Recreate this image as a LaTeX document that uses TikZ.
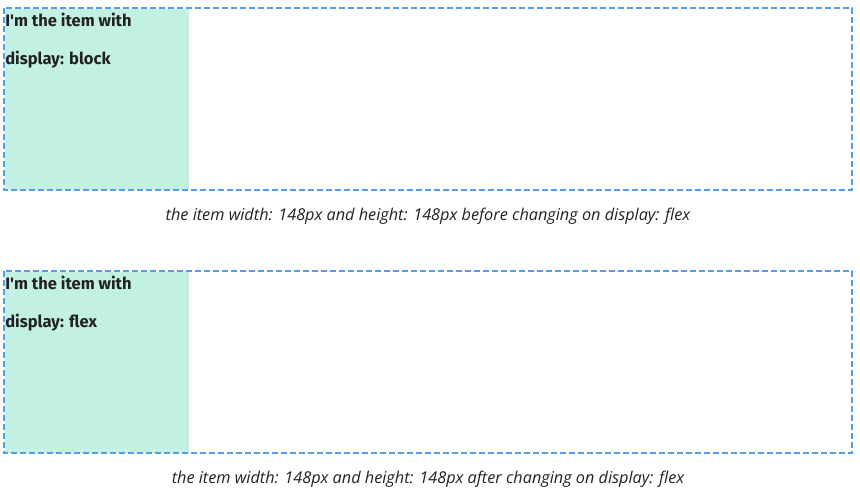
\documentclass[tikz,border=0pt]{standalone}
\usepackage{fontspec}
\usetikzlibrary{positioning}
\newfontfamily\itemfont{Fira Sans}
\newfontfamily\capfont{Open Sans}
\definecolor{boxblue}{HTML}{549DEA}
\definecolor{itemgreen}{HTML}{C2F0E2}
\definecolor{textdark}{HTML}{222222}
\tikzset{
  outerbox/.style={draw=boxblue, line width=1.5pt, dash pattern=on 4.5pt off 2.25pt},
  itembox/.style={fill=itemgreen, draw=none},
  itemtext/.style={anchor=base west, inner sep=0pt, text=textdark, font=\itemfont\bfseries\fontsize{12.4}{14}\selectfont},
  captext/.style={anchor=base, inner sep=0pt, text=textdark, font=\capfont\itshape\fontsize{12.2}{14}\selectfont}
}
\begin{document}
\begin{tikzpicture}[x=0.75pt, y=-0.75pt]
\useasboundingbox (0,0) rectangle (860,497);
% block item
\fill[itembox] (5,9) rectangle (189,190);
\draw[outerbox] (4,8) rectangle (852,190);
\node[itemtext] (blockA) at (5,26) {I'm the item with};
\node[itemtext] (blockB) at (5,64) {display: block};
\node[captext] (capA) at (428,220) {the item width: 148px and height: 148px before changing on display: flex};
% flex item
\fill[itembox] (5,272) rectangle (189,453);
\draw[outerbox] (4,271) rectangle (852,453);
\node[itemtext] (flexA) at (5,289) {I'm the item with};
\node[itemtext] (flexB) at (5,327) {display: flex};
\node[captext] (capB) at (428,483) {the item width: 148px and height: 148px after changing on display: flex};
\end{tikzpicture}
\end{document}
